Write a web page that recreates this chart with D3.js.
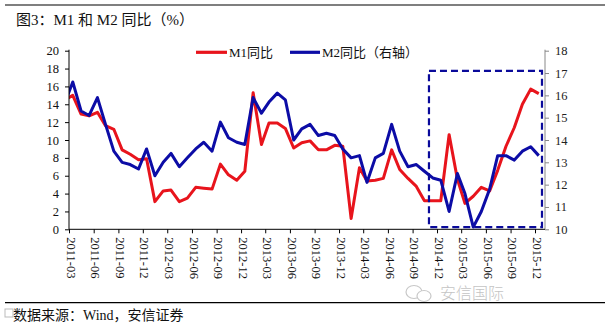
<!DOCTYPE html>
<html>
<head>
<meta charset="utf-8">
<script src="https://cdn.jsdelivr.net/npm/d3@7"></script>
<style>
  body { margin: 0; background: #fff; }
  svg { display: block; }
  text { font-family: "Liberation Serif", "Noto Sans CJK SC", serif; }
</style>
</head>
<body>
<svg id="chart" width="610" height="326"></svg>
<script>
// ---------------- data ----------------
const months = [
  "2011-02","2011-03","2011-04","2011-05","2011-06","2011-07","2011-08","2011-09","2011-10","2011-11","2011-12",
  "2012-01","2012-02","2012-03","2012-04","2012-05","2012-06","2012-07","2012-08","2012-09","2012-10","2012-11","2012-12",
  "2013-01","2013-02","2013-03","2013-04","2013-05","2013-06","2013-07","2013-08","2013-09","2013-10","2013-11","2013-12",
  "2014-01","2014-02","2014-03","2014-04","2014-05","2014-06","2014-07","2014-08","2014-09","2014-10","2014-11","2014-12",
  "2015-01","2015-02","2015-03","2015-04","2015-05","2015-06","2015-07","2015-08","2015-09","2015-10","2015-11","2015-12"
];
const m1 = [
  14.5,15.0,12.9,12.7,13.1,11.6,11.2,8.9,8.4,7.8,7.9,
  3.1,4.3,4.4,3.1,3.5,4.7,4.6,4.5,7.3,6.1,5.5,6.5,
  15.3,9.5,11.9,11.9,11.3,9.1,9.7,9.9,8.9,8.9,9.4,9.3,
  1.2,6.9,5.4,5.5,5.7,8.9,6.7,5.7,4.8,3.2,3.2,3.2,
  10.6,5.6,2.9,3.7,4.7,4.3,6.6,9.3,11.4,14.0,15.7,15.2
];
const m2 = [
  15.7,16.6,15.3,15.1,15.9,14.7,13.5,13.0,12.9,12.7,13.6,
  12.4,13.0,13.4,12.8,13.2,13.6,13.9,13.5,14.8,14.1,13.9,13.8,
  15.9,15.2,15.7,16.1,15.8,14.0,14.5,14.7,14.2,14.3,14.2,13.6,
  13.2,13.3,12.1,13.2,13.4,14.7,13.5,12.8,12.9,12.6,12.3,12.2,
  10.8,12.5,11.6,10.1,10.8,11.8,13.3,13.3,13.1,13.5,13.7,13.3
];
const xTickLabels = [
  "2011-03","2011-06","2011-09","2011-12","2012-03","2012-06","2012-09","2012-12",
  "2013-03","2013-06","2013-09","2013-12","2014-03","2014-06","2014-09","2014-12",
  "2015-03","2015-06","2015-09","2015-12"
];
const leftTicks = [0,2,4,6,8,10,12,14,16,18,20];
const rightTicks = [10,11,12,13,14,15,16,17,18];
const seriesNames = ["M1同比", "M2同比（右轴）"];
const boxRegion = { from: "2014-11-01", to: "2015-12-27", lo: 10.1, hi: 17.1 }; // right-axis units

const title = "图3：M1 和 M2 同比（%）";
const source = "数据来源：Wind，安信证券";

// ---------------- layout ----------------
const svg = d3.select("#chart");
const parse = d3.timeParse("%Y-%m-%d");
const pMonth = d3.timeParse("%Y-%m");
const plotLeft = 69, plotRight = 545, plotTop = 50.7, plotBottom = 229.3;

const x = d3.scaleTime()
  .domain([parse("2011-03-01"), parse("2015-12-01")])
  .range([plotLeft, 535]);
const yL = d3.scaleLinear().domain([0, 20]).range([plotBottom, plotTop]);
const yR = d3.scaleLinear().domain([10, 18]).range([plotBottom, plotTop]);

const pointDate = s => d3.timeDay.offset(pMonth(s), 14);

const RED = "#e8141c", BLUE = "#0c0ca6";

// rules top & bottom
svg.append("line").attr("x1", 5).attr("x2", 605).attr("y1", 5).attr("y2", 5)
  .attr("stroke", "#000").attr("stroke-width", 1.2);
svg.append("line").attr("x1", 5).attr("x2", 605).attr("y1", 302.7).attr("y2", 302.7)
  .attr("stroke", "#000").attr("stroke-width", 1.2);

svg.append("text").attr("x", 16).attr("y", 25).attr("font-size", 15).attr("fill", "#111").text(title);
svg.append("text").attr("x", 13).attr("y", 320).attr("font-size", 14).attr("fill", "#111").text(source);

// watermark
const wm = svg.append("g").attr("fill", "none").attr("stroke", "#c8c8c8").attr("stroke-width", 1.2);
wm.append("ellipse").attr("cx", 414).attr("cy", 292).attr("rx", 8).attr("ry", 6.5);
wm.append("ellipse").attr("cx", 424).attr("cy", 296).attr("rx", 7).attr("ry", 5.5).attr("fill", "#fff");
svg.append("text").attr("x", 440).attr("y", 299).attr("font-size", 16).attr("fill", "#c4c4c4")
  .style("font-family", "'Noto Sans CJK SC', sans-serif").style("font-weight", 300).text("安信国际");
svg.append("rect").attr("x", 5).attr("y", 309).attr("width", 8).attr("height", 8)
  .attr("fill", "none").attr("stroke", "#bbb");

// clip
svg.append("clipPath").attr("id", "plotclip").append("rect")
  .attr("x", plotLeft).attr("y", 0).attr("width", plotRight - plotLeft).attr("height", 326);

// lines
const data = months.map((m, i) => ({ d: pointDate(m), a: m1[i], b: m2[i] }));
const g = svg.append("g").attr("clip-path", "url(#plotclip)");
g.append("path").datum(data)
  .attr("fill", "none").attr("stroke", RED).attr("stroke-width", 3).attr("stroke-linejoin", "round")
  .attr("d", d3.line().x(d => x(d.d)).y(d => yL(d.a)));
g.append("path").datum(data)
  .attr("fill", "none").attr("stroke", BLUE).attr("stroke-width", 3).attr("stroke-linejoin", "round")
  .attr("d", d3.line().x(d => x(d.d)).y(d => yR(d.b)));

// dashed box
svg.append("rect")
  .attr("x", x(parse(boxRegion.from)))
  .attr("y", yR(boxRegion.hi))
  .attr("width", x(parse(boxRegion.to)) - x(parse(boxRegion.from)))
  .attr("height", yR(boxRegion.lo) - yR(boxRegion.hi))
  .attr("fill", "none").attr("stroke", "#0a0a9a").attr("stroke-width", 2.2)
  .attr("stroke-dasharray", "7,4");

// left axis
const axL = svg.append("g").attr("transform", `translate(${plotLeft},0)`)
  .call(d3.axisLeft(yL).tickValues(leftTicks).tickSize(4).tickPadding(6).tickSizeOuter(0));
axL.select(".domain").attr("stroke", "#000").attr("d", `M0,${plotTop - 1}V${plotBottom}`);
axL.selectAll(".tick line").attr("stroke", "#000");
axL.selectAll("text").attr("font-size", 12.5).attr("fill", "#111")
  .style("font-family", "'Liberation Serif', serif");

// right axis
const axR = svg.append("g").attr("transform", `translate(${plotRight},0)`)
  .call(d3.axisRight(yR).tickValues(rightTicks).tickSize(4).tickPadding(6).tickSizeOuter(0));
axR.select(".domain").attr("stroke", "#888").attr("d", `M0,${plotTop - 1}V${plotBottom}`);
axR.selectAll(".tick line").attr("stroke", "#888");
axR.selectAll("text").attr("font-size", 12.5).attr("fill", "#222")
  .style("font-family", "'Liberation Serif', serif");

// x axis
const xTickDates = xTickLabels.map(s => pMonth(s));
const axX = svg.append("g").attr("transform", `translate(0,${plotBottom})`)
  .call(d3.axisBottom(x).tickValues(xTickDates).tickSize(4).tickFormat(""));
axX.select(".domain").attr("stroke", "#000").attr("d", `M${plotLeft},0H${plotRight}`);
axX.selectAll(".tick line").attr("stroke", "#000");
svg.append("g").selectAll("text").data(xTickLabels).join("text")
  .attr("transform", d => `translate(${x(pMonth(d)) + 2},${plotBottom + 8}) rotate(90)`)
  .attr("dy", "0.35em").attr("text-anchor", "start")
  .attr("font-size", 12.5).attr("fill", "#111")
  .style("font-family", "'Liberation Serif', serif")
  .text(d => d);

// legend
const legend = [
  { name: seriesNames[0], color: RED, x1: 196, x2: 227 },
  { name: seriesNames[1], color: BLUE, x1: 290, x2: 320 }
];
const lg = svg.append("g");
legend.forEach(l => {
  lg.append("line").attr("x1", l.x1).attr("x2", l.x2).attr("y1", 52.3).attr("y2", 52.3)
    .attr("stroke", l.color).attr("stroke-width", 3.2);
  lg.append("text").attr("x", l.x2 + 2).attr("y", 56.5).attr("font-size", 13).attr("fill", "#111").text(l.name);
});
</script>
</body>
</html>
